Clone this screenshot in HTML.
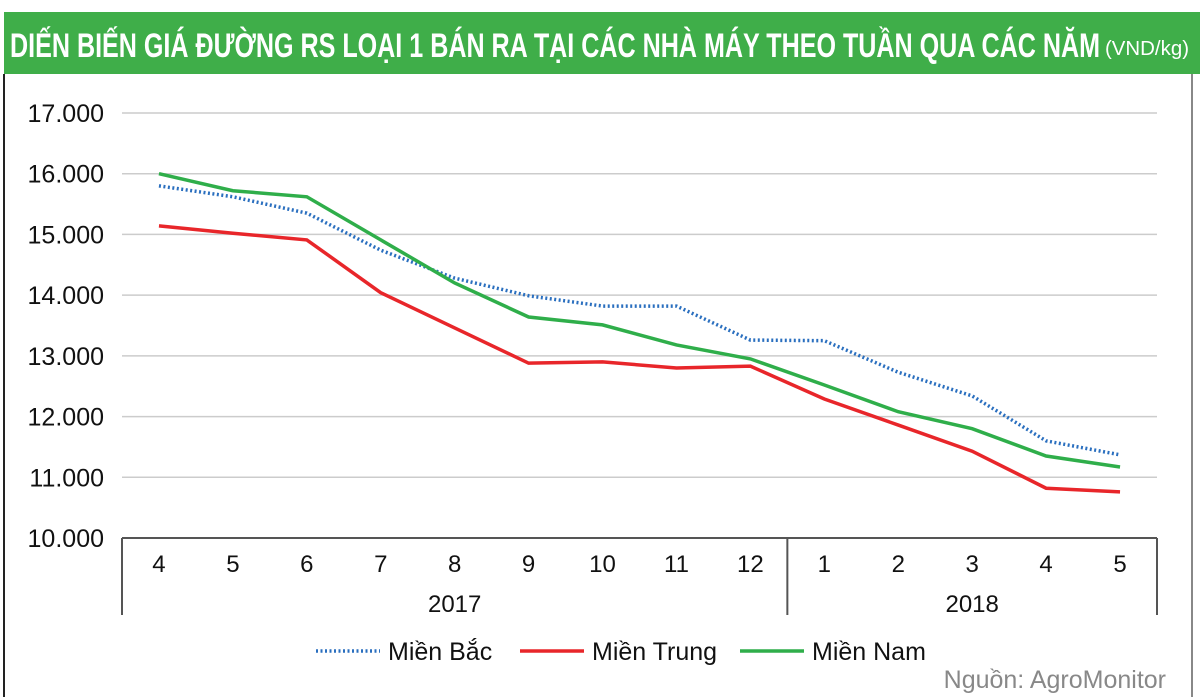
<!DOCTYPE html>
<html><head><meta charset="utf-8"><style>
body{margin:0;background:#fff;width:1200px;height:697px;overflow:hidden;font-family:"Liberation Sans",sans-serif}
#title{position:absolute;left:4px;top:12px;width:1196px;height:62px;background:#3fae49}
</style></head><body>
<div id="title"></div>
<svg id="chart" width="1200" height="697" style="position:absolute;left:0;top:0">
<text x="10" y="57" font-size="34" font-weight="bold" fill="#fff" textLength="1090" lengthAdjust="spacingAndGlyphs">DIẾN BIẾN GIÁ ĐƯỜNG RS LOẠI 1 BÁN RA TẠI CÁC NHÀ MÁY THEO TUẦN QUA CÁC NĂM</text>
<text x="1105" y="55" font-size="20" fill="#fff" textLength="84" lengthAdjust="spacingAndGlyphs">(VND/kg)</text>
</svg>
<script>
const categories=["4","5","6","7","8","9","10","11","12","1","2","3","4","5"];
const yearLabels=["2017","2018"];
const yearCounts=[9,5];
const yTicks=[10000,11000,12000,13000,14000,15000,16000,17000];
const bac=[15800,15620,15350,14740,14280,13990,13820,13820,13260,13250,12730,12340,11600,11370];
const trung=[15140,15020,14910,14040,13460,12880,12900,12800,12830,12290,11860,11430,10820,10760];
const nam=[16000,15720,15620,14910,14200,13640,13510,13180,12950,12520,12080,11800,11350,11170];
const NS="http://www.w3.org/2000/svg",svg=document.getElementById('chart');
const L=122,R=1157,T=113,B=538,step=(R-L)/categories.length;
const x=i=>L+step*(i+0.5), y=v=>B-(v-10000)/7000*(B-T);
function el(t,a,txt){const e=document.createElementNS(NS,t);for(const k in a)e.setAttribute(k,a[k]);if(txt!=null)e.textContent=txt;svg.appendChild(e);return e;}
let f=el('line',{x1:4,y1:74,x2:4,y2:697,stroke:'#222','stroke-width':2});


f=el('line',{x1:1192,y1:74,x2:1192,y2:697,stroke:'#888','stroke-width':2});


yTicks.forEach(v=>{
 if(v>10000){const g=el('line',{x1:L,x2:R,y1:y(v),y2:y(v),stroke:'#ccc','stroke-width':1.5});
 
 }
 const t=el('text',{x:104,y:y(v)+9,'text-anchor':'end','font-size':25,fill:'#111'},v.toLocaleString('de-DE'));
 
 
});
const ax=el('line',{x1:L,x2:R,y1:B,y2:B,stroke:'#555','stroke-width':2});


categories.forEach((c,i)=>{const t=el('text',{x:x(i),y:572,'text-anchor':'middle','font-size':24,fill:'#111'},c);
 
 });
let start=0;
[0,...yearCounts].reduce((a,n)=>{const xs=L+step*(a+n);const s=el('line',{x1:xs,x2:xs,y1:B,y2:615,stroke:'#555','stroke-width':2});
 
 return a+n;},0);
yearCounts.forEach((n,k)=>{const cx=L+step*(start+n/2);start+=n;
 const t=el('text',{x:cx,y:612,'text-anchor':'middle','font-size':24,fill:'#111'},yearLabels[k]);
 
 });
function series(d,color,dash,name){const p=el('polyline',{points:d.map((v,i)=>x(i)+','+y(v)).join(' '),fill:'none',stroke:color,'stroke-width':3.5,'stroke-dasharray':dash?'2 2.5':'none'});
 
 }
series(bac,'#2a6fbf',true,'series-mien-bac');
series(trung,'#e8262a',false,'series-mien-trung');
series(nam,'#2fae4a',false,'series-mien-nam');
[[316,'#2a6fbf',true,'Miền Bắc'],[520,'#e8262a',false,'Miền Trung'],[740,'#2fae4a',false,'Miền Nam']].forEach(([lx,c,d,n])=>{
 const l=el('line',{x1:lx,x2:lx+64,y1:651,y2:651,stroke:c,'stroke-width':3.5,'stroke-dasharray':d?'2 2.5':'none'});
 
 
 const t=el('text',{x:lx+72,y:660,'font-size':25,fill:'#111'},n);
 
 });
const src=el('text',{x:1166,y:688,'text-anchor':'end','font-size':25,fill:'#888'},'Nguồn: AgroMonitor');


</script>
</body></html>
